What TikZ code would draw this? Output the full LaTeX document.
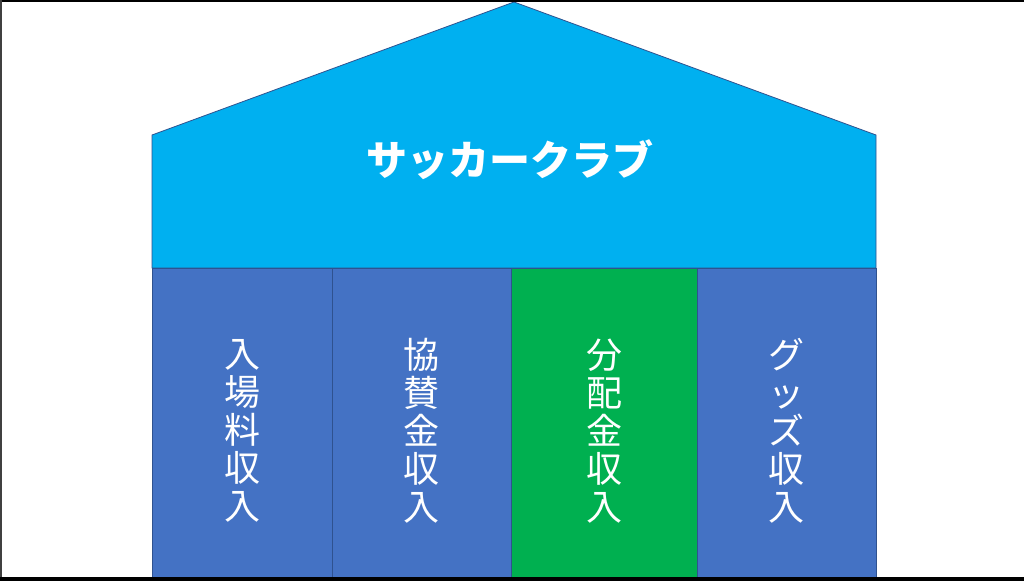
\documentclass[tikz,border=0pt]{standalone}
\usepackage{fontspec}
\newfontfamily\jp{Noto Sans CJK JP}
\usetikzlibrary{positioning}
\definecolor{roofblue}{HTML}{00B0F0}
\definecolor{pillarblue}{HTML}{4472C4}
\definecolor{pillargreen}{HTML}{00B050}
\definecolor{edgeblue}{HTML}{2F528F}

\begin{document}
\begin{tikzpicture}[y=-1pt,x=1pt]
	\tikzset{pillar/.style={draw=edgeblue, line width=0.8pt, fill=pillarblue},
		pillartext/.style={text=white, font=\jp\fontsize{36}{38}\selectfont, align=center, inner sep=0pt}}
	\useasboundingbox (0,0) rectangle (1024,581);
	\fill[white] (0,0) rectangle (1024,581);

	% roof
	\draw[edgeblue, line width=0.8pt, fill=roofblue] (152,135) -- (514,2) -- (876,135) -- (876,268) -- (152,268) -- cycle;
	\node[text=white, font=\jp\bfseries\fontsize{41}{41}\selectfont] (club) at (510,160) {サッカークラブ};

	% pillars
	\draw[pillar] (152,268) rectangle (332,580);
	\draw[pillar] (332,268) rectangle (511,580);
	\draw[pillar, fill=pillargreen] (511,268) rectangle (697,580);
	\draw[pillar] (697,268) rectangle (876,580);

	\node[pillartext] (gate) at (242,431) {入\\場\\料\\収\\入};
	\node[pillartext] (sponsor) at (421,431) {協\\賛\\金\\収\\入};
	\node[pillartext] (share) at (604,431) {分\\配\\金\\収\\入};
	\node[pillartext] (goods) at (786,431) {グ\\ッ\\ズ\\収\\入};

	% frame
	\fill[black] (0,0) rectangle (1024,2);
	\fill[black!75] (0,0) rectangle (2,581);
	\fill[black] (0,577) rectangle (1024,581);
\end{tikzpicture}
\end{document}
